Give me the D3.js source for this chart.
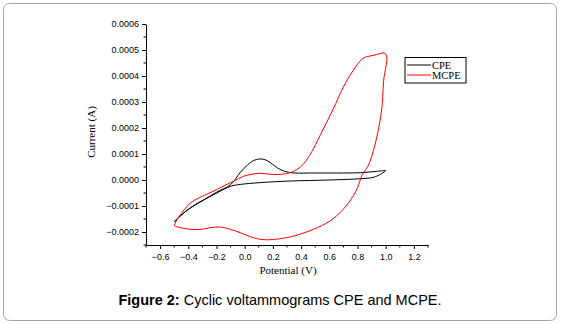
<!DOCTYPE html>
<html>
<head>
<meta charset="utf-8">
<script src="https://cdn.jsdelivr.net/npm/d3@7"></script>
<style>
  body { margin: 0; background: #fff; }
  .tick text { font-family: "Liberation Sans", Arial, sans-serif; font-size: 9px; fill: #000; }
  .lbl { font-family: "Liberation Serif", "Times New Roman", serif; font-size: 11px; }
</style>
</head>
<body>
<div id="chart"></div>
<script>
// potential (V), current (A)
const cpePotential = [-0.50, -0.45, -0.40, -0.30, -0.20, -0.10, -0.03, 0.02, 0.06, 0.11, 0.15, 0.18, 0.25, 0.30, 0.35, 0.50, 0.70, 0.82, 0.91, 0.97, 1.00,
                      0.97, 0.91, 0.82, 0.60, 0.32, 0.11, -0.03, -0.10, -0.17, -0.25, -0.33, -0.40, -0.46, -0.50];
const cpeCurrent   = [-0.000160, -0.000135, -0.000113, -0.000080, -0.000047, -0.000018, 0.000030, 0.000058, 0.000074, 0.000081, 0.000077, 0.000067, 0.000041, 0.000031, 0.000027, 0.000027, 0.000027, 0.000028, 0.000032, 0.000035, 0.000036,
                      0.000024, 0.000010, 0.000005, 0.000000, -0.000004, -0.000010, -0.000017, -0.000024, -0.000042, -0.000065, -0.000088, -0.000113, -0.000140, -0.000162];

const mcpePotential = [-0.50, -0.48, -0.43, -0.385, -0.33, -0.27, -0.20, -0.15, -0.08, -0.01, 0.05, 0.11, 0.20, 0.26, 0.32, 0.37, 0.416, 0.45, 0.486, 0.557, 0.628, 0.698, 0.769, 0.84, 0.91, 1.00,
                       0.985, 0.969, 0.922, 0.875, 0.835, 0.80, 0.769, 0.698, 0.604, 0.486, 0.40, 0.322, 0.20, 0.12, 0.05, -0.03, -0.10, -0.17, -0.24, -0.31, -0.38, -0.45, -0.49, -0.50];
const mcpeCurrent   = [-0.000175, -0.000152, -0.000115, -0.000088, -0.000070, -0.000055, -0.000037, -0.000023, -0.000005, 0.000014, 0.000022, 0.000026, 0.000021, 0.000022, 0.000028, 0.000040, 0.000061, 0.000086, 0.000119, 0.000196, 0.000273, 0.000356, 0.000421, 0.000468, 0.000479, 0.000485,
                       0.000380, 0.000260, 0.000131, 0.000054, 0.000022, -0.000030, -0.000062, -0.000113, -0.000158, -0.000190, -0.000207, -0.000219, -0.000229, -0.000229, -0.000220, -0.000203, -0.000190, -0.000181, -0.000183, -0.000190, -0.000190, -0.000184, -0.000178, -0.000175];

const seriesNames = ["CPE", "MCPE"];
const seriesColors = ["#000000", "#ff0000"];
const xTicks = [-0.6, -0.4, -0.2, 0.0, 0.2, 0.4, 0.6, 0.8, 1.0, 1.2];
const yTicks = [-0.0002, -0.0001, 0.0, 0.0001, 0.0002, 0.0003, 0.0004, 0.0005, 0.0006];

const width = 561, height = 325;
const svg = d3.select("#chart").append("svg")
  .attr("width", width).attr("height", height);

// outer frame
svg.append("rect")
  .attr("x", 3.5).attr("y", 3.5)
  .attr("width", 553).attr("height", 317)
  .attr("rx", 6)
  .attr("fill", "none").attr("stroke", "#a6a6a6").attr("stroke-width", 1);

const xScale = d3.scaleLinear().domain([-0.7, 1.3]).range([146, 428]);
const yScale = d3.scaleLinear().domain([-0.00025, 0.0006]).range([245, 24]);

const xAxis = d3.axisBottom(xScale).tickValues(xTicks).tickFormat(d3.format(".1f")).tickSize(4).tickSizeOuter(0);
const yAxis = d3.axisLeft(yScale).tickValues(yTicks).tickFormat(d3.format(".4f")).tickSize(4).tickSizeOuter(0);

const xg = svg.append("g").attr("transform", `translate(0,${yScale.range()[0]})`).call(xAxis);
const yg = svg.append("g").attr("transform", `translate(${xScale.range()[0]},0)`).call(yAxis);
[xg, yg].forEach(g => g.select(".domain").attr("stroke", "#000"));
xg.selectAll(".tick text").attr("dy", "0.9em");

// minor ticks
const xMinor = d3.range(-0.7, 1.31, 0.1).filter(v => !xTicks.some(t => Math.abs(t - v) < 1e-6));
xg.selectAll(".minor").data(xMinor).join("line")
  .attr("x1", d => xScale(d)).attr("x2", d => xScale(d))
  .attr("y1", 0).attr("y2", 2.5).attr("stroke", "#000");
const yMinor = d3.range(-0.00025, 0.000601, 0.00005).filter(v => !yTicks.some(t => Math.abs(t - v) < 1e-9));
yg.selectAll(".minor").data(yMinor).join("line")
  .attr("y1", d => yScale(d)).attr("y2", d => yScale(d))
  .attr("x1", 0).attr("x2", -2.5).attr("stroke", "#000");

// axis titles
svg.append("text").attr("class", "lbl")
  .attr("x", 288).attr("y", 274).attr("text-anchor", "middle")
  .text("Potential (V)");
svg.append("text").attr("class", "lbl")
  .attr("transform", "translate(95,132) rotate(-90)")
  .attr("text-anchor", "middle")
  .text("Current (A)");

// curves
const line = d3.line()
  .x(d => xScale(d[0]))
  .y(d => yScale(d[1]))
  .curve(d3.curveCatmullRom);

const series = [
  d3.zip(cpePotential, cpeCurrent),
  d3.zip(mcpePotential, mcpeCurrent)
];
svg.selectAll("path.cv").data(series).join("path")
  .attr("class", "cv")
  .attr("fill", "none")
  .attr("stroke", (d, i) => seriesColors[i])
  .attr("stroke-width", 1)
  .attr("d", line);

// legend
const legend = svg.append("g").attr("transform", "translate(405,57.5)");
legend.append("rect").attr("width", 61).attr("height", 25.5)
  .attr("fill", "#fff").attr("stroke", "#000");
seriesNames.forEach((name, i) => {
  const y = 7.5 + i * 10;
  legend.append("line").attr("x1", 2).attr("x2", 26).attr("y1", y).attr("y2", y)
    .attr("stroke", seriesColors[i]);
  legend.append("text").attr("class", "lbl").attr("x", 27).attr("y", y + 3.5)
    .style("font-size", "10.5px")
    .text(name);
});

// caption
const cap = svg.append("text")
  .attr("x", 280).attr("y", 305).attr("text-anchor", "middle")
  .attr("font-family", "Liberation Sans, Arial, sans-serif").attr("font-size", "14.5px");
cap.append("tspan").attr("font-weight", "bold").text("Figure 2:");
cap.append("tspan").text(" Cyclic voltammograms CPE and MCPE.");
</script>
</body>
</html>
